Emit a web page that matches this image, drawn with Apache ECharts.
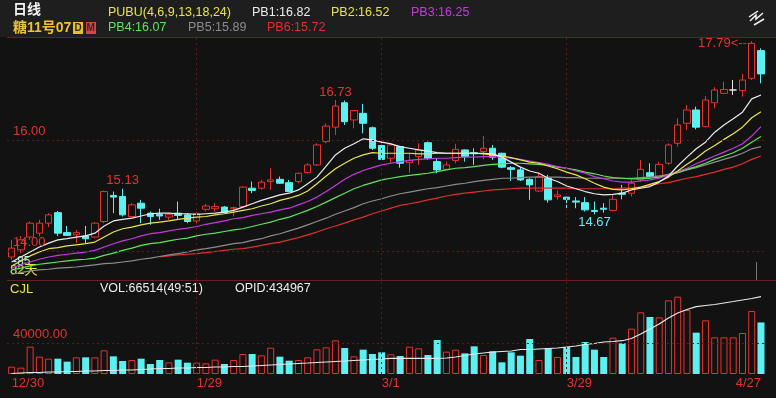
<!DOCTYPE html>
<html>
<head>
<meta charset="utf-8">
<script src="https://cdn.jsdelivr.net/npm/echarts@6.0.0/dist/echarts.min.js"></script>
<style>
html, body { margin: 0; padding: 0; background: #121212; }
#chart { width: 776px; height: 398px; }
</style>
</head>
<body>
<div id="chart"></div>
<script>
var dates = ['12/30','12/31','1/4','1/5','1/6','1/7','1/8','1/11','1/12','1/13','1/14','1/15','1/19','1/20','1/21','1/22','1/25','1/26','1/27','1/28','1/29',
  '2/1','2/2','2/3','2/4','2/5','2/8','2/9','2/10','2/11','2/12','2/16','2/17','2/18','2/19','2/22','2/23','2/24','2/25','2/26',
  '3/1','3/2','3/3','3/4','3/5','3/8','3/9','3/10','3/11','3/12','3/15','3/16','3/17','3/18','3/19','3/22','3/23','3/24','3/25','3/26',
  '3/29','3/30','3/31','4/1','4/2','4/5','4/6','4/7','4/8','4/9','4/12','4/13','4/14','4/15','4/16','4/19','4/20','4/21','4/22','4/23',
  '4/26','4/27'];

var opens = [13.90,14.03,14.26,14.33,14.51,14.70,14.34,14.30,14.28,14.26,
  14.54,15.01,14.99,14.63,14.87,14.69,14.67,14.62,14.69,14.66,
  14.55,14.76,14.77,14.80,14.77,14.81,15.14,15.14,15.26,15.30,
  15.24,15.26,15.42,15.56,15.98,16.24,16.68,16.37,16.49,16.23,
  15.91,15.68,15.89,15.60,15.71,15.96,15.62,15.48,15.64,15.83,
  15.78,15.80,15.86,15.77,15.51,15.47,15.30,15.09,15.32,14.99,
  14.98,14.91,14.88,14.74,14.78,14.74,15.05,15.05,15.29,15.42,
  15.36,15.59,15.95,16.31,16.55,16.25,16.68,16.85,16.91,16.90,
  17.12,17.62];
var closes = [14.06,14.21,14.51,14.51,14.66,14.33,14.29,14.34,14.23,14.51,
  15.08,14.98,14.66,14.84,14.78,14.63,14.64,14.67,14.65,14.54,
  14.68,14.82,14.81,14.70,14.79,15.16,15.10,15.25,15.29,15.23,
  15.08,15.41,15.56,15.92,16.26,16.62,16.34,16.54,16.31,15.86,
  15.66,15.92,15.59,15.64,15.83,15.68,15.47,15.56,15.84,15.71,
  15.76,15.86,15.70,15.52,15.48,15.29,15.20,15.35,14.93,15.02,
  14.94,14.89,14.75,14.72,14.76,14.94,15.03,15.23,15.48,15.35,
  15.57,15.92,16.28,16.55,16.24,16.73,16.91,16.92,16.91,17.09,
  17.75,17.20];
var lows = [13.85,13.97,14.21,14.27,14.44,14.28,14.28,14.15,14.15,14.24,
  14.51,14.69,14.63,14.62,14.51,14.48,14.57,14.57,14.57,14.51,
  14.51,14.72,14.72,14.69,14.63,14.78,15.05,15.11,15.11,15.22,
  15.07,15.23,15.41,15.54,15.95,16.10,16.28,16.22,16.13,15.83,
  15.65,15.59,15.51,15.42,15.56,15.65,15.41,15.47,15.59,15.62,
  15.56,15.66,15.65,15.50,15.27,15.27,14.93,15.07,14.88,14.93,
  14.77,14.78,14.72,14.67,14.70,14.72,14.94,14.99,15.26,15.32,
  15.34,15.56,15.89,16.19,16.20,16.24,16.58,16.84,16.82,16.79,
  17.09,17.03];
var highs = [14.21,14.28,14.54,14.57,14.69,14.73,14.46,14.39,14.46,14.53,
  15.10,15.08,15.13,14.87,14.93,14.72,14.77,14.69,14.90,14.69,
  14.71,14.86,14.87,14.82,14.81,15.18,15.26,15.29,15.50,15.35,
  15.29,15.42,15.59,15.95,16.31,16.73,16.72,16.55,16.66,16.25,
  15.98,15.96,15.90,15.77,15.95,15.98,15.68,15.62,15.94,15.84,
  15.86,16.08,15.92,15.78,15.54,15.51,15.32,15.43,15.38,15.10,
  14.98,14.98,14.98,14.90,14.87,15.02,15.20,15.29,15.65,15.59,
  15.62,15.95,16.40,16.64,16.61,16.80,16.96,17.06,17.09,17.20,
  17.79,17.66];

var pb1 = [13.81,13.90,13.99,14.08,14.15,14.21,14.23,14.26,14.28,14.33,
  14.46,14.55,14.58,14.60,14.64,14.68,14.69,14.69,14.68,14.68,
  14.67,14.68,14.69,14.71,14.74,14.80,14.86,14.92,14.97,15.02,
  15.05,15.11,15.22,15.34,15.54,15.74,15.86,15.94,16.03,16.01,
  15.97,15.94,15.89,15.86,15.83,15.81,15.78,15.77,15.77,15.77,
  15.77,15.77,15.76,15.70,15.61,15.52,15.45,15.41,15.32,15.26,
  15.18,15.13,15.08,15.04,15.02,15.03,15.05,15.11,15.14,15.17,
  15.25,15.36,15.54,15.70,15.85,15.97,16.15,16.28,16.39,16.51,
  16.75,16.82];
var pb2 = [13.74,13.83,13.92,13.99,14.05,14.07,14.10,14.12,14.14,14.17,
  14.26,14.35,14.41,14.44,14.48,14.51,14.53,14.55,14.58,14.60,
  14.62,14.63,14.66,14.68,14.71,14.74,14.77,14.82,14.86,14.92,
  14.96,15.01,15.09,15.22,15.36,15.49,15.59,15.68,15.74,15.78,
  15.77,15.77,15.77,15.77,15.76,15.76,15.77,15.77,15.77,15.77,
  15.77,15.76,15.74,15.72,15.69,15.65,15.61,15.59,15.54,15.49,
  15.43,15.38,15.31,15.23,15.16,15.12,15.11,15.13,15.16,15.21,
  15.26,15.34,15.45,15.57,15.68,15.81,15.91,16.02,16.12,16.24,
  16.41,16.52];
var pb3 = [13.70,13.76,13.81,13.86,13.90,13.93,13.95,13.97,13.99,14.02,
  14.08,14.14,14.19,14.23,14.28,14.32,14.34,14.37,14.40,14.42,
  14.45,14.49,14.52,14.55,14.59,14.61,14.65,14.68,14.71,14.75,
  14.78,14.84,14.90,14.98,15.08,15.19,15.30,15.39,15.46,15.51,
  15.56,15.59,15.62,15.64,15.66,15.67,15.68,15.68,15.69,15.70,
  15.70,15.71,15.71,15.70,15.68,15.66,15.63,15.60,15.57,15.53,
  15.50,15.45,15.41,15.35,15.31,15.27,15.25,15.25,15.27,15.29,
  15.32,15.38,15.44,15.50,15.58,15.65,15.72,15.79,15.86,15.94,
  16.08,16.25];
var pb4 = [13.67,13.70,13.74,13.77,13.79,13.81,13.83,13.85,13.86,13.88,
  13.93,13.97,14.02,14.06,14.11,14.14,14.16,14.19,14.22,14.24,
  14.28,14.31,14.33,14.36,14.39,14.41,14.45,14.49,14.53,14.58,
  14.62,14.68,14.74,14.81,14.89,14.97,15.05,15.13,15.19,15.24,
  15.29,15.32,15.35,15.37,15.39,15.41,15.44,15.47,15.50,15.51,
  15.53,15.55,15.57,15.58,15.59,15.59,15.58,15.57,15.55,15.52,
  15.50,15.47,15.43,15.40,15.36,15.33,15.32,15.31,15.31,15.32,
  15.34,15.38,15.42,15.48,15.53,15.59,15.66,15.72,15.78,15.86,
  15.97,16.07];
var pb5 = [13.59,13.62,13.65,13.67,13.68,13.70,13.71,13.72,13.74,13.76,
  13.78,13.79,13.81,13.83,13.86,13.88,13.91,13.94,13.96,13.99,
  14.03,14.05,14.08,14.11,14.14,14.16,14.20,14.23,14.28,14.32,
  14.37,14.42,14.48,14.54,14.60,14.67,14.73,14.79,14.86,14.91,
  14.95,15.00,15.04,15.07,15.10,15.13,15.15,15.18,15.21,15.23,
  15.26,15.28,15.30,15.32,15.32,15.33,15.34,15.34,15.34,15.34,
  15.33,15.33,15.32,15.32,15.32,15.32,15.32,15.32,15.33,15.34,
  15.36,15.39,15.42,15.47,15.51,15.56,15.61,15.66,15.71,15.77,
  15.85,15.89];
var pb6 = [null,null,null,null,null,null,null,null,null,null,
  null,null,null,null,null,null,13.90,13.92,13.94,13.95,
  13.96,13.98,14.00,14.02,14.04,14.05,14.08,14.11,14.14,14.17,
  14.21,14.25,14.30,14.35,14.41,14.46,14.51,14.57,14.62,14.68,
  14.73,14.78,14.83,14.86,14.89,14.93,14.96,15.00,15.03,15.05,
  15.07,15.09,15.11,15.12,15.13,15.14,15.14,15.14,15.14,15.14,
  15.14,15.13,15.13,15.13,15.13,15.13,15.14,15.14,15.16,15.19,
  15.22,15.24,15.28,15.32,15.35,15.39,15.43,15.48,15.52,15.58,
  15.66,15.72];

var volumes = [9460,8170,35260,22360,19780,19780,15910,21500,21500,21500,
  30530,22790,16770,18060,19780,12900,18060,15050,18490,14620,
  14620,13760,18490,12900,18060,25800,25800,24080,33970,22360,
  17200,18060,21500,31820,34400,43430,33540,22790,31390,25800,
  27950,25370,23220,35260,33110,24510,43860,28810,31390,26660,
  35690,24510,29240,15050,27950,23650,45150,18060,33540,21930,
  34830,21930,41280,31390,21930,46870,39560,58480,79550,73530,
  73100,95030,99760,82560,53320,69230,47300,47300,47300,52890,
  81270,66514];
var opid = [151800,153700,155500,155500,157400,157400,159200,159200,161100,161100,
  162900,162900,164700,164700,166600,168400,170300,170300,172100,172100,
  174000,174000,175800,175800,177600,177600,179500,181300,183200,185000,
  186900,188700,190500,192400,194200,196100,197900,199800,201600,203400,
  205300,207900,207900,207900,207900,207900,207900,209000,212700,218200,
  223700,227400,231100,232900,234800,240300,240300,242200,244000,245800,
  249500,253200,258700,262400,268000,269800,272700,280900,297400,315900,
  334300,356400,374800,387700,398100,402500,406200,411700,417200,422800,
  428300,434967];

var labelIdx = [0, 20, 40, 60, 81];
var priceLines = [16, 14];
var volLine = 40000;

var upColor = '#e5322f';
var downColor = '#5cf0f0';
var bg = '#121212';
var gridRed = '#5c1c1c';
var font = '"Liberation Sans", Arial, "Noto Sans CJK SC", sans-serif';

var chart = echarts.init(document.getElementById('chart'));

var candleData = dates.map(function (d, i) {
  var item = { value: [opens[i], closes[i], lows[i], highs[i]] };
  if (opens[i] === closes[i]) {
    item.itemStyle = { color: '#e8e8e8', color0: '#e8e8e8', borderColor: '#e8e8e8', borderColor0: '#e8e8e8', borderColorDoji: '#e8e8e8' };
  }
  return item;
});

var volData = volumes.map(function (v, i) {
  var up = closes[i] >= opens[i];
  return {
    value: v,
    itemStyle: up ? { color: bg, borderColor: upColor, borderWidth: 1 } : { color: downColor, borderWidth: 0 }
  };
});

var vLines = labelIdx.slice(1, 4).map(function (i) { return { xAxis: dates[i] }; });

function maLine(name, data, color) {
  return {
    name: name, type: 'line', xAxisIndex: 0, yAxisIndex: 0, data: data,
    showSymbol: false, silent: true, connectNulls: false,
    lineStyle: { color: color, width: 1.2 }
  };
}

function txt(x, y, text, fill, size, weight) {
  return {
    type: 'text', x: x, y: y, silent: true,
    style: { text: text, fill: fill, font: (weight || 'normal') + ' ' + (size || 13) + 'px ' + font, textVerticalAlign: 'middle' }
  };
}

var option = {
  backgroundColor: bg,
  animation: false,
  grid: [
    { left: 7, right: 10.4, top: 38, height: 242 },
    { left: 7, right: 10.4, top: 282, height: 92 }
  ],
  xAxis: [
    { type: 'category', gridIndex: 0, data: dates, axisLine: { show: false }, axisTick: { show: false }, axisLabel: { show: false }, splitLine: { show: false } },
    { type: 'category', gridIndex: 1, data: dates, axisLine: { show: false }, axisTick: { show: false }, splitLine: { show: false },
      axisLabel: {
        interval: function (i) { return labelIdx.indexOf(i) >= 0; },
        color: upColor, fontSize: 13, fontFamily: font, align: 'left', alignMaxLabel: 'right', margin: 3
      } }
  ],
  yAxis: [
    { type: 'value', gridIndex: 0, min: 13.486, max: 17.847, show: false, splitLine: { show: false } },
    { type: 'value', gridIndex: 1, min: 0, max: 118700, show: false, splitLine: { show: false } },
    { type: 'value', gridIndex: 1, min: 150000, max: 489100, show: false, splitLine: { show: false } }
  ],
  series: [
    {
      name: 'K', type: 'candlestick', xAxisIndex: 0, yAxisIndex: 0, data: candleData, barWidth: 7,
      itemStyle: { color: bg, color0: downColor, borderColor: upColor, borderColor0: downColor, borderWidth: 1 },
      markLine: {
        silent: true, symbol: ['none', 'none'],
        lineStyle: { color: gridRed, type: [2, 3], width: 1 },
        label: { show: false },
        data: priceLines.map(function (p) {
          return { yAxis: p, label: { show: true, position: 'insideStartTop', distance: [6, 3], formatter: p.toFixed(2), color: upColor, fontSize: 13, fontFamily: font } };
        }).concat(vLines)
      },
      markPoint: {
        symbol: 'circle', symbolSize: 1, silent: true,
        itemStyle: { color: 'rgba(0,0,0,0)' },
        label: { fontSize: 13, fontFamily: font },
        data: [
          { coord: [dates[12], highs[12]], label: { position: 'top', distance: 1, color: upColor, formatter: highs[12].toFixed(2) } },
          { coord: [dates[35], highs[35]], label: { position: 'top', distance: 1, color: upColor, formatter: highs[35].toFixed(2) } },
          { coord: [dates[63], lows[63]], label: { position: 'bottom', distance: 1, color: downColor, formatter: lows[63].toFixed(2) } },
          { coord: [dates[80], highs[80]], label: { position: 'left', distance: 0, offset: [0, 2], color: upColor, formatter: highs[80].toFixed(2) + '<---' } }
        ]
      }
    },
    maLine('PB6', pb6, '#e0302e'),
    maLine('PB5', pb5, '#8c8c8c'),
    maLine('PB4', pb4, '#5ee65a'),
    maLine('PB3', pb3, '#c63ae0'),
    maLine('PB2', pb2, '#e8e64a'),
    maLine('PB1', pb1, '#ececec'),
    {
      name: 'VOL', type: 'bar', xAxisIndex: 1, yAxisIndex: 1, data: volData, barWidth: 7,
      markLine: {
        silent: true, symbol: ['none', 'none'],
        lineStyle: { color: gridRed, type: [2, 3], width: 1 },
        label: { show: false },
        data: [{ yAxis: volLine, label: { show: true, position: 'insideStartTop', distance: [6, 2], formatter: volLine.toFixed(2), color: upColor, fontSize: 13, fontFamily: font } }].concat(vLines)
      }
    },
    {
      name: 'OPID', type: 'line', xAxisIndex: 1, yAxisIndex: 2, data: opid,
      showSymbol: false, silent: true, lineStyle: { color: '#e8e8e8', width: 1.2 }
    }
  ],
  graphic: [
    { type: 'rect', shape: { x: 0, y: 0, width: 776, height: 37 }, style: { fill: '#1e1e1e' }, silent: true, z: -1 },
    { type: 'line', shape: { x1: 7, y1: 37.5, x2: 776, y2: 37.5 }, style: { stroke: '#6a1e1e', lineWidth: 1 }, silent: true },
    { type: 'line', shape: { x1: 7, y1: 280.5, x2: 776, y2: 280.5 }, style: { stroke: '#6a1e1e', lineWidth: 1 }, silent: true },
    txt(13, 10, '日线', '#f2f2f2', 14, 'bold'),
    txt(13, 28, '糖11号07', '#f0c232', 14, 'bold'),
    { type: 'rect', shape: { x: 73, y: 22, width: 10, height: 12 }, style: { fill: '#e8c02c' }, silent: true },
    txt(74.5, 28.5, 'D', '#2a2a2a', 10, 'bold'),
    { type: 'rect', shape: { x: 86, y: 22, width: 10, height: 12 }, style: { fill: '#d6454a' }, silent: true },
    txt(86.5, 28.5, 'M', '#2a2a2a', 10, 'bold'),
    txt(108, 13, 'PUBU(4,6,9,13,18,24)', '#e8e34a', 12.5),
    txt(252, 13, 'PB1:' + pb1[81].toFixed(2), '#ececec', 12.5),
    txt(331, 13, 'PB2:' + pb2[81].toFixed(2), '#e8e34a', 12.5),
    txt(411, 13, 'PB3:' + pb3[81].toFixed(2), '#c63ae0', 12.5),
    txt(108, 28, 'PB4:' + pb4[81].toFixed(2), '#5ee65a', 12.5),
    txt(188, 28, 'PB5:' + pb5[81].toFixed(2), '#8c8c8c', 12.5),
    txt(267, 28, 'PB6:' + pb6[81].toFixed(2), '#e0302e', 12.5),
    { type: 'polyline', shape: { points: [[749, 17], [758, 11]] }, style: { stroke: '#f0f0f0', lineWidth: 1.5 }, silent: true },
    { type: 'polyline', shape: { points: [[750, 21], [756, 15], [756, 19], [763, 13]] }, style: { stroke: '#f0f0f0', lineWidth: 1.5, fill: null }, silent: true },
    { type: 'polyline', shape: { points: [[754, 25], [764, 19]] }, style: { stroke: '#f0f0f0', lineWidth: 1.5 }, silent: true },
    txt(13, 262, '-85', '#a8f4f4', 12),
    txt(10, 270, dates.length + '天', '#e8e34a', 13),
    { type: 'line', shape: { x1: 756.5, y1: 262, x2: 756.5, y2: 280 }, style: { stroke: '#777', lineWidth: 1 }, silent: true },
    txt(10, 289, 'CJL', '#e8e34a', 13),
    txt(100, 289, 'VOL:' + volumes[81] + '(49:51)', '#ececec', 12.5),
    txt(235, 289, 'OPID:' + opid[81], '#ececec', 12.5)
  ]
};

chart.setOption(option);
</script>
</body>
</html>
